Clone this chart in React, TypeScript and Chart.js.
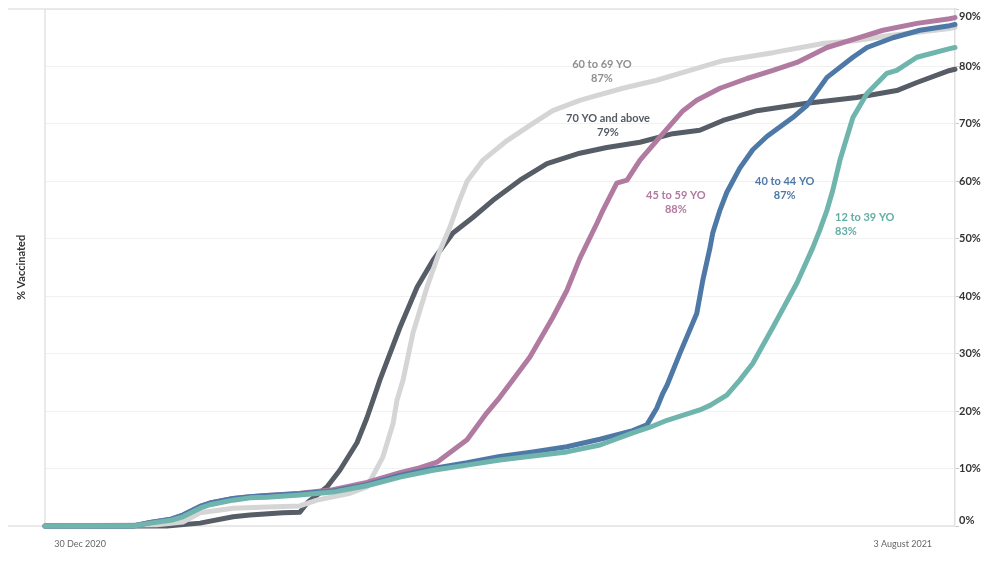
import React, { useEffect, useRef } from "react";
import { Chart, registerables } from "chart.js";

Chart.register(...registerables);

// x values are days since 30 Dec 2020, y values are % vaccinated
const xTickDays = [0, 216];
const xTickLabels = ["30 Dec 2020", "3 August 2021"];
const yTicks = [0, 10, 20, 30, 40, 50, 60, 70, 80, 90];

const days12to39 = [-9.2, 13.9, 18.4, 23.9, 27.0, 31.5, 34.1, 40.2, 44.6, 49.1, 57.7, 66.4, 75.3, 84.0, 92.7, 101.6, 110.2, 118.9, 127.8, 136.5, 145.1, 149.6, 154.1, 162.7, 165.4, 169.8, 173.2, 176.6, 181.9, 188.2, 192.4, 194.2, 196.1, 197.6, 199.5, 202.9, 206.6, 211.8, 214.4, 219.7, 228.3, 229.7];
const pct12to39 = [0, 0, 0.5, 1.0, 1.6, 3.1, 3.7, 4.5, 4.9, 5.0, 5.4, 5.9, 7.0, 8.5, 9.7, 10.6, 11.5, 12.2, 12.9, 14.1, 16.2, 17.2, 18.4, 20.2, 21.0, 22.8, 25.4, 28.3, 34.6, 42.3, 48.5, 51.5, 55.0, 58.4, 63.7, 71.1, 75.3, 78.8, 79.3, 81.6, 83.1, 83.3];

const days40to44 = [-9.2, 13.9, 18.4, 23.9, 27.0, 31.5, 34.1, 40.2, 44.6, 49.1, 57.7, 66.4, 75.3, 84.0, 92.7, 101.6, 110.2, 118.9, 127.8, 136.5, 145.1, 148.8, 151.4, 153.0, 154.1, 157.5, 161.9, 163.5, 165.4, 166.1, 168.0, 169.8, 173.2, 176.6, 180.3, 187.1, 190.8, 196.1, 202.9, 206.6, 213.4, 220.5, 228.3, 229.7];
const pct40to44 = [0, 0, 0.6, 1.2, 1.9, 3.4, 4.0, 4.8, 5.1, 5.3, 5.6, 6.1, 7.2, 8.8, 10.0, 11.0, 12.1, 12.9, 13.8, 15.1, 16.6, 17.6, 20.5, 23.1, 24.5, 30.1, 37.0, 42.8, 48.5, 51.0, 55.0, 58.1, 62.3, 65.5, 67.8, 71.1, 73.2, 78.1, 81.6, 83.3, 85.0, 86.3, 87.1, 87.3];

const days45to59 = [-9.2, 13.9, 18.4, 23.9, 27.0, 31.5, 34.1, 40.2, 44.6, 49.1, 57.7, 66.4, 75.3, 84.0, 88.5, 93.7, 101.6, 106.8, 110.2, 113.6, 118.1, 124.1, 127.8, 131.2, 135.7, 137.3, 140.9, 143.6, 147.0, 152.2, 158.3, 161.9, 168.0, 175.1, 181.9, 188.2, 196.1, 203.9, 210.8, 219.7, 228.3, 229.7];
const pct45to59 = [0, 0, 0.6, 1.2, 1.9, 3.4, 4.0, 4.8, 5.1, 5.3, 5.7, 6.3, 7.6, 9.3, 10.0, 11.1, 15.0, 19.7, 22.4, 25.4, 29.4, 36.3, 41.0, 46.6, 52.7, 55.0, 59.7, 60.2, 63.7, 67.7, 72.3, 74.1, 76.2, 77.9, 79.3, 80.7, 83.3, 84.9, 86.3, 87.5, 88.3, 88.5];

const days60to69 = [-9.2, 20.2, 27.0, 31.5, 40.2, 49.1, 57.7, 62.2, 70.9, 75.3, 79.5, 82.2, 83.2, 84.8, 87.4, 91.1, 94.5, 97.1, 99.5, 101.6, 105.8, 112.1, 118.9, 124.1, 131.2, 133.9, 142.5, 151.4, 160.1, 168.8, 181.9, 195.0, 203.9, 212.6, 228.3, 229.7];
const pct60to69 = [0, 0.2, 0.7, 2.3, 3.1, 3.3, 3.5, 4.5, 5.7, 6.8, 12.0, 17.9, 21.9, 25.4, 33.6, 41.6, 48.0, 52.0, 56.5, 60.0, 63.7, 67.1, 70.1, 72.3, 74.1, 74.6, 76.2, 77.6, 79.3, 81.0, 82.4, 84.0, 84.5, 85.4, 86.6, 86.8];

const days70up = [-9.2, 22.8, 31.5, 40.2, 44.6, 53.3, 57.7, 59.6, 64.8, 68.2, 72.7, 75.3, 78.0, 78.7, 84.0, 88.5, 92.7, 97.9, 103.1, 108.4, 115.5, 122.6, 131.2, 138.3, 147.0, 155.6, 162.7, 168.8, 177.7, 190.8, 203.9, 214.4, 219.7, 228.3, 229.7];
const pct70up = [0, 0, 0.5, 1.6, 1.9, 2.3, 2.4, 4.0, 6.8, 9.7, 14.5, 18.8, 24.0, 25.4, 34.6, 41.6, 46.3, 51.0, 53.7, 56.7, 60.2, 63.1, 64.9, 65.9, 66.8, 68.3, 68.9, 70.6, 72.3, 73.6, 74.6, 75.8, 77.2, 79.3, 79.5];

const seriesNames = ["12 to 39 YO", "40 to 44 YO", "45 to 59 YO", "60 to 69 YO", "70 YO and above"];
const finalLabels = ["83%", "87%", "88%", "87%", "79%"];
const lineColors = ["#6fb5ad", "#4e79a7", "#b07aa1", "#d5d5d5", "#575d66"];
const labelColors = ["#62ada5", "#4e79a7", "#b07aa1", "#8f8f8f", "#555b63"];

const toPoints = (xs: number[], ys: number[]) => xs.map((x, i) => ({ x, y: ys[i] }));

const FONT = "Lato, 'Open Sans', sans-serif";

export default function App() {
  const ref = useRef<HTMLCanvasElement | null>(null);

  useEffect(() => {
    if (!ref.current) return;
    const allDays = [days12to39, days40to44, days45to59, days60to69, days70up];
    const allPct = [pct12to39, pct40to44, pct45to59, pct60to69, pct70up];

    // annotation anchors: [day, pct, align]
    const annos: { d: number; p: number; align: CanvasTextAlign }[] = [
      { d: 198.2, p: 53.7, align: "left" },
      { d: 185.0, p: 60.0, align: "center" },
      { d: 156.4, p: 57.5, align: "center" },
      { d: 137.0, p: 80.3, align: "center" },
      { d: 138.6, p: 71.0, align: "center" },
    ];

    const framePlugin = {
      id: "frame",
      beforeDatasetsDraw(chart: any) {
        const { ctx, chartArea } = chart;
        ctx.save();
        ctx.strokeStyle = "#e3e3e3";
        ctx.lineWidth = 1.5;
        ctx.beginPath();
        ctx.moveTo(8, chartArea.top);
        ctx.lineTo(chartArea.right + 2, chartArea.top);
        ctx.moveTo(chartArea.left, chartArea.top);
        ctx.lineTo(chartArea.left, chartArea.bottom);
        ctx.moveTo(8, chartArea.bottom);
        ctx.lineTo(chartArea.right, chartArea.bottom);
        ctx.stroke();
        ctx.restore();
      },
      afterDraw(chart: any) {
        const { ctx, chartArea, scales } = chart;
        const ys = scales.y;
        const xs = scales.x;
        ctx.save();
        ctx.fillStyle = "#333333";
        ctx.font = `bold 11px ${FONT}`;
        ctx.textAlign = "left";
        ctx.textBaseline = "middle";
        yTicks.forEach((v, i) => {
          let y = ys.getPixelForValue(v);
          if (i === 0) y -= 6;
          if (i === yTicks.length - 1) y += 7;
          ctx.fillText(`${v}%`, chartArea.right + 4, y);
        });
        ctx.save();
        ctx.translate(21, (chartArea.top + chartArea.bottom) / 2);
        ctx.rotate(-Math.PI / 2);
        ctx.textAlign = "center";
        ctx.fillText("% Vaccinated", 0, 0);
        ctx.restore();
        annos.forEach((a, i) => {
          const x = xs.getPixelForValue(a.d);
          const y = ys.getPixelForValue(a.p);
          ctx.fillStyle = labelColors[i];
          ctx.font = `bold 11px ${FONT}`;
          ctx.textAlign = a.align;
          ctx.fillText(seriesNames[i], x, y);
          ctx.fillText(finalLabels[i], x, y + 14);
        });
        ctx.restore();
      },
    };

    const chart = new Chart(ref.current, {
      type: "line",
      data: {
        datasets: seriesNames.map((name, i) => ({
          label: name,
          data: toPoints(allDays[i], allPct[i]),
          borderColor: lineColors[i],
          backgroundColor: lineColors[i],
          borderWidth: 5,
          pointRadius: 0,
          tension: 0,
          borderJoinStyle: "round" as const,
          borderCapStyle: "round" as const,
          order: i + 1,
          clip: 6,
        })),
      },
      options: {
        animation: false,
        responsive: true,
        maintainAspectRatio: false,
        layout: { padding: { left: 45, top: 9, right: 0, bottom: 0 } },
        plugins: { legend: { display: false }, tooltip: { enabled: false } },
        scales: {
          x: {
            type: "linear",
            min: -9.2,
            max: 229.7,
            grid: { display: false },
            border: { display: false },
            afterBuildTicks: (s: any) => {
              s.ticks = xTickDays.map((v) => ({ value: v }));
            },
            afterFit: (s: any) => {
              s.height = 37;
            },
            ticks: {
              autoSkip: false,
              maxRotation: 0,
              padding: 5,
              color: "#666666",
              font: { family: FONT, size: 9 },
              callback: (v: any) => {
                const idx = xTickDays.indexOf(Number(v));
                return idx >= 0 ? xTickLabels[idx] : "";
              },
            },
          },
          y: {
            type: "linear",
            position: "right",
            min: 0,
            max: 90,
            afterBuildTicks: (s: any) => {
              s.ticks = yTicks.map((v) => ({ value: v }));
            },
            afterFit: (s: any) => {
              s.width = 45;
            },
            grid: { color: "#f1f1f1", lineWidth: 1, drawTicks: true, tickLength: 4, tickColor: "#c8c8c8" },
            border: { display: true, color: "#e0e0e0", width: 1.5 },
            ticks: { display: false },
          },
        },
      },
      plugins: [framePlugin],
    });
    return () => chart.destroy();
  }, []);

  return (
    <div style={{ position: "absolute", left: 0, top: 0, width: 1000, height: 563, background: "#ffffff" }}>
      <canvas ref={ref} />
    </div>
  );
}
